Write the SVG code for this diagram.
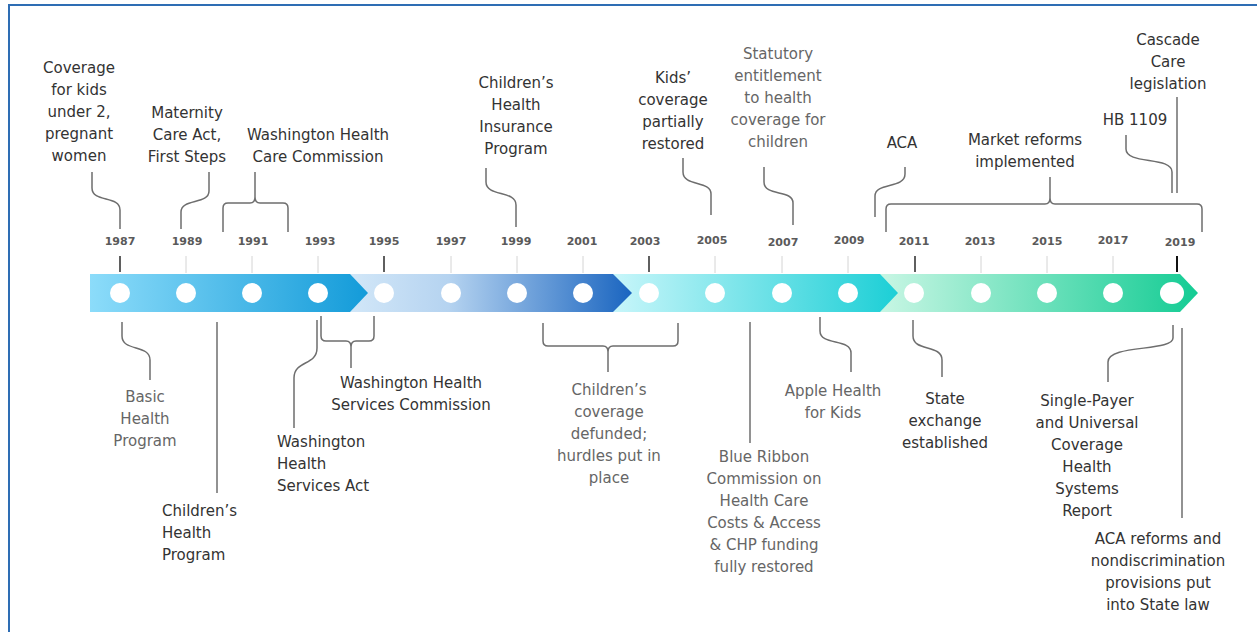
<svg xmlns="http://www.w3.org/2000/svg" width="1257" height="632" viewBox="0 0 1257 632">
<defs>
<linearGradient id="g1" x1="0" y1="0" x2="1" y2="0"><stop offset="0" stop-color="#8cdcfa"/><stop offset="1" stop-color="#139bd9"/></linearGradient>
<linearGradient id="g2" x1="0" y1="0" x2="1" y2="0"><stop offset="0" stop-color="#d2e7f8"/><stop offset="0.35" stop-color="#b5d3f0"/><stop offset="1" stop-color="#1a65c0"/></linearGradient>
<linearGradient id="g3" x1="0" y1="0" x2="1" y2="0"><stop offset="0" stop-color="#c8f6fa"/><stop offset="1" stop-color="#1ccfd6"/></linearGradient>
<linearGradient id="g4" x1="0" y1="0" x2="1" y2="0"><stop offset="0" stop-color="#c8f6e4"/><stop offset="1" stop-color="#14cc94"/></linearGradient>
<style>
.t{font-family:"DejaVu Sans",Verdana,sans-serif;font-size:15px;text-anchor:middle;fill:#333}
.l{text-anchor:start}
.g{fill:#666}
.y{font-family:"DejaVu Sans",Verdana,sans-serif;font-size:11px;font-weight:bold;text-anchor:middle;fill:#5a5a5a}
.c{fill:none;stroke:#6e6e6e;stroke-width:1.5}
.tk{stroke:#5f5f5f;stroke-width:2}
.tl{stroke:#d4d4d4;stroke-width:1}
.dot{fill:#fff}
</style>
</defs>
<rect width="1257" height="632" fill="#fff"/>
<path d="M9,632 V5 H1257" fill="none" stroke="#2e6db4" stroke-width="2"/>

<g id="timeline">
<polygon points="880,274 1180,274 1198,293 1180,312 880,312" fill="url(#g4)"/>
<polygon points="613,274 880,274 898,293 880,312 613,312" fill="url(#g3)"/>
<polygon points="350,274 613,274 632,293 613,312 350,312" fill="url(#g2)"/>
<polygon points="90,274 350,274 368,293 350,312 90,312" fill="url(#g1)"/>
<g class="dot">
<circle cx="120" cy="293" r="10"/><circle cx="186" cy="293" r="10"/><circle cx="252" cy="293" r="10"/><circle cx="318" cy="293" r="10"/>
<circle cx="384" cy="293" r="10"/><circle cx="451" cy="293" r="10"/><circle cx="517" cy="293" r="10"/><circle cx="583" cy="293" r="10"/>
<circle cx="649" cy="293" r="10"/><circle cx="715" cy="293" r="10"/><circle cx="782" cy="293" r="10"/><circle cx="848" cy="293" r="10"/>
<circle cx="914" cy="293" r="10"/><circle cx="981" cy="293" r="10"/><circle cx="1047" cy="293" r="10"/><circle cx="1113" cy="293" r="10"/>
<ellipse cx="1172" cy="293" rx="12" ry="11"/>
</g>
<g>
<line class="tk" x1="120" y1="256" x2="120" y2="272"/>
<line class="tl" x1="186" y1="256" x2="186" y2="273"/>
<line class="tl" x1="252" y1="256" x2="252" y2="273"/>
<line class="tl" x1="318" y1="256" x2="318" y2="273"/>
<line class="tk" x1="384" y1="256" x2="384" y2="272"/>
<line class="tl" x1="451" y1="256" x2="451" y2="273"/>
<line class="tl" x1="517" y1="256" x2="517" y2="273"/>
<line class="tl" x1="583" y1="256" x2="583" y2="273"/>
<line class="tk" x1="649" y1="256" x2="649" y2="272"/>
<line class="tl" x1="715" y1="256" x2="715" y2="273"/>
<line class="tl" x1="782" y1="256" x2="782" y2="273"/>
<line class="tl" x1="848" y1="256" x2="848" y2="273"/>
<line class="tk" x1="915" y1="256" x2="915" y2="272"/>
<line class="tl" x1="981" y1="256" x2="981" y2="273"/>
<line class="tl" x1="1047" y1="256" x2="1047" y2="273"/>
<line class="tl" x1="1113" y1="256" x2="1113" y2="273"/>
<line x1="1177" y1="256" x2="1177" y2="272" stroke="#111" stroke-width="2"/>
</g>
<g>
<text class="y" x="120" y="245">1987</text>
<text class="y" x="187" y="245">1989</text>
<text class="y" x="253" y="245">1991</text>
<text class="y" x="320" y="245">1993</text>
<text class="y" x="384" y="245">1995</text>
<text class="y" x="451" y="245">1997</text>
<text class="y" x="516" y="245">1999</text>
<text class="y" x="582" y="245">2001</text>
<text class="y" x="645" y="245">2003</text>
<text class="y" x="712" y="244">2005</text>
<text class="y" x="783" y="246">2007</text>
<text class="y" x="849" y="244">2009</text>
<text class="y" x="914" y="245">2011</text>
<text class="y" x="980" y="245">2013</text>
<text class="y" x="1047" y="245">2015</text>
<text class="y" x="1113" y="244">2017</text>
<text class="y" x="1180" y="246">2019</text>
</g>
</g>

<g id="connectors">
<path class="c" d="M92,172 V188 C92,203 120,195 120,210 V229"/>
<path class="c" d="M209,172 V191 C209,205 181,198 181,212 V229"/>
<path class="c" d="M223,232 V208 Q223,203 228,203 H250 Q255,203 255,197 V172 M288,232 V208 Q288,203 283,203 H260 Q255,203 255,197"/>
<path class="c" d="M486,168 V182 C486,197 516,190 516,205 V227"/>
<path class="c" d="M683,158 V172 C683,187 711,180 711,194 V215"/>
<path class="c" d="M764,167 V182 C764,197 793,189 793,203 V225"/>
<path class="c" d="M905,167 V174 C905,189 875,182 875,196 V217"/>
<path class="c" d="M886,232 V209 Q886,204 891,204 H1045 Q1050,204 1050,198 V177 M1202,232 V209 Q1202,204 1197,204 H1055 Q1050,204 1050,198"/>
<path class="c" d="M1126,135 V149 C1126,165 1172,156 1172,172 V193"/>
<path class="c" d="M1177,97 V193"/>
<path class="c" d="M122,322 V336 C122,352 150,344 150,360 V380"/>
<path class="c" d="M217,322 V493"/>
<path class="c" d="M317,320 V348 C317,366 294,360 294,378 V428"/>
<path class="c" d="M321,316 V336 Q321,341 326,341 H346 Q351,341 351,347 V368 M374,316 V336 Q374,341 369,341 H356 Q351,341 351,347"/>
<path class="c" d="M543,323 V341 Q543,346 548,346 H603 Q608,346 608,352 V372 M678,323 V341 Q678,346 673,346 H613 Q608,346 608,352"/>
<path class="c" d="M750,322 V443"/>
<path class="c" d="M820,317 V331 C820,346 851,338 851,353 V372"/>
<path class="c" d="M913,320 V336 C913,352 942,344 942,360 V377"/>
<path class="c" d="M1173,325 V338 C1173,352 1108,344 1108,362 V382"/>
<path class="c" d="M1182,328 V518"/>
</g>

<g id="n1987"><text class="t" x="79" y="73">Coverage<tspan x="79" dy="22">for kids</tspan><tspan x="79" dy="22">under 2,</tspan><tspan x="79" dy="22">pregnant</tspan><tspan x="79" dy="22">women</tspan></text></g>
<g id="n1989"><text class="t" x="187" y="118">Maternity<tspan x="187" dy="22">Care Act,</tspan><tspan x="187" dy="22">First Steps</tspan></text></g>
<g id="n1991"><text class="t" x="318" y="140">Washington Health<tspan x="318" dy="22">Care Commission</tspan></text></g>
<g id="n1999"><text class="t" x="516" y="88">Children’s<tspan x="516" dy="22">Health</tspan><tspan x="516" dy="22">Insurance</tspan><tspan x="516" dy="22">Program</tspan></text></g>
<g id="n2005"><text class="t" x="673" y="83">Kids’<tspan x="673" dy="22">coverage</tspan><tspan x="673" dy="22">partially</tspan><tspan x="673" dy="22">restored</tspan></text></g>
<g id="n2007"><text class="t g" x="778" y="59">Statutory<tspan x="778" dy="22">entitlement</tspan><tspan x="778" dy="22">to health</tspan><tspan x="778" dy="22">coverage for</tspan><tspan x="778" dy="22">children</tspan></text></g>
<g id="n2010"><text class="t" x="902" y="148">ACA</text></g>
<g id="nmarket"><text class="t" x="1025" y="145">Market reforms<tspan x="1025" dy="22">implemented</tspan></text></g>
<g id="nhb1109"><text class="t" x="1135" y="125">HB 1109</text></g>
<g id="ncascade"><text class="t" x="1168" y="45">Cascade<tspan x="1168" dy="22">Care</tspan><tspan x="1168" dy="22">legislation</tspan></text></g>
<g id="nbasic"><text class="t g" x="145" y="402">Basic<tspan x="145" dy="22">Health</tspan><tspan x="145" dy="22">Program</tspan></text></g>
<g id="nchp"><text class="t l" x="162" y="516">Children’s<tspan x="162" dy="22">Health</tspan><tspan x="162" dy="22">Program</tspan></text></g>
<g id="nwhsa"><text class="t l" x="277" y="447">Washington<tspan x="277" dy="22">Health</tspan><tspan x="277" dy="22">Services Act</tspan></text></g>
<g id="nwhsc"><text class="t" x="411" y="388">Washington Health<tspan x="411" dy="22">Services Commission</tspan></text></g>
<g id="ndefund"><text class="t g" x="609" y="395">Children’s<tspan x="609" dy="22">coverage</tspan><tspan x="609" dy="22">defunded;</tspan><tspan x="609" dy="22">hurdles put in</tspan><tspan x="609" dy="22">place</tspan></text></g>
<g id="nblue"><text class="t g" x="764" y="462">Blue Ribbon<tspan x="764" dy="22">Commission on</tspan><tspan x="764" dy="22">Health Care</tspan><tspan x="764" dy="22">Costs &amp; Access</tspan><tspan x="764" dy="22">&amp; CHP funding</tspan><tspan x="764" dy="22">fully restored</tspan></text></g>
<g id="napple"><text class="t g" x="833" y="396">Apple Health<tspan x="833" dy="22">for Kids</tspan></text></g>
<g id="nstate"><text class="t" x="945" y="404">State<tspan x="945" dy="22">exchange</tspan><tspan x="945" dy="22">established</tspan></text></g>
<g id="nsingle"><text class="t" x="1087" y="406">Single-Payer<tspan x="1087" dy="22">and Universal</tspan><tspan x="1087" dy="22">Coverage</tspan><tspan x="1087" dy="22">Health</tspan><tspan x="1087" dy="22">Systems</tspan><tspan x="1087" dy="22">Report</tspan></text></g>
<g id="nacaref"><text class="t" x="1158" y="544">ACA reforms and<tspan x="1158" dy="22">nondiscrimination</tspan><tspan x="1158" dy="22">provisions put</tspan><tspan x="1158" dy="22">into State law</tspan></text></g>
</svg>
